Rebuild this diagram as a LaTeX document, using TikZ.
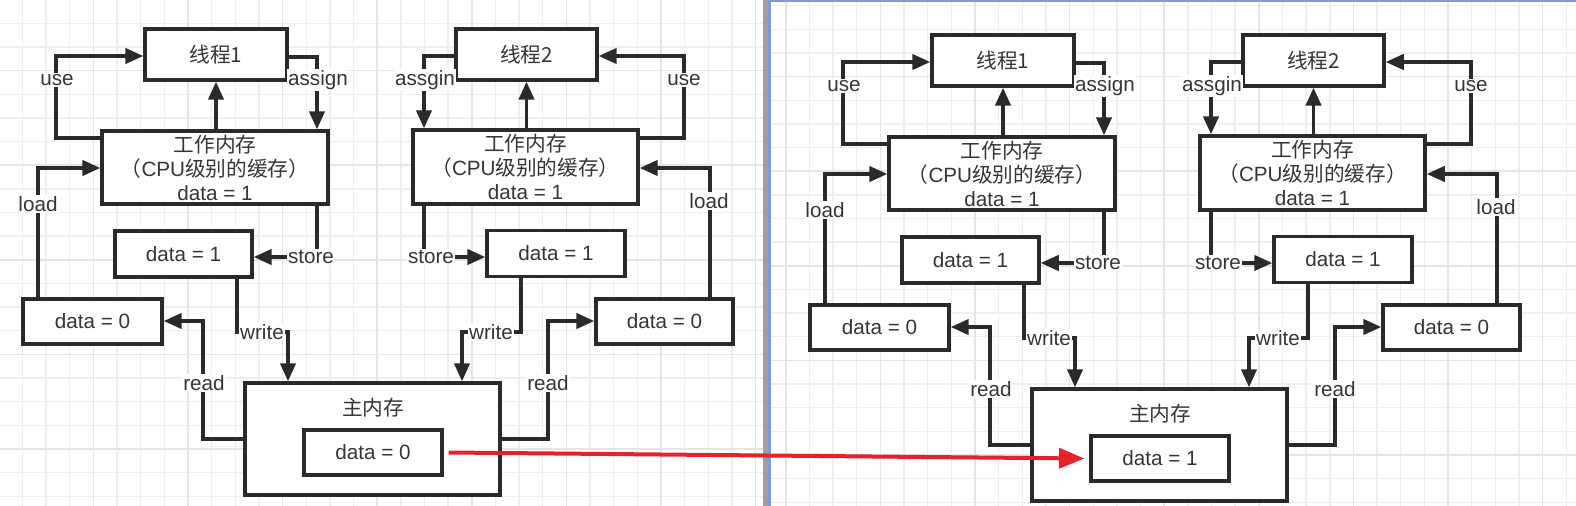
\documentclass[tikz,border=0pt]{standalone}
\usepackage{fontspec}
\setmainfont{Liberation Sans}
\newfontfamily\cjk{Noto Sans CJK SC}
\usetikzlibrary{arrows.meta,calc}
\definecolor{ink}{HTML}{2A2A2A}
\definecolor{txt}{HTML}{363636}
\definecolor{gridc}{HTML}{EFEFEF}
\definecolor{gridm}{HTML}{E5E5E5}
\definecolor{sepgrey}{HTML}{A59C9F}
\definecolor{sepblue}{HTML}{7E9CD6}
\definecolor{redarr}{HTML}{E8202A}
\tikzset{
  box/.style 2 args={draw=ink, line width=2.6pt, fill=white, inner sep=0pt,
    minimum width={#1*0.75pt}, minimum height={#2*0.75pt},
    font=\fontsize{15.5}{18}\selectfont, text=txt, align=center},
  lbl/.style={fill=white, inner sep=1pt, font=\fontsize{15.5}{18}\selectfont, text=txt},
  plain/.style={inner sep=0pt, font=\fontsize{15.5}{18}\selectfont, text=txt},
  arr/.style={draw=ink, line width=2.5pt, -{Triangle[length=13.5pt,width=11.5pt]}},
  gminor/.style={draw=gridc, line width=1.1pt},
  gmajor/.style={draw=gridm, line width=1.1pt},
  redline/.style={draw=redarr, line width=3pt, -{Triangle[length=19pt,width=15pt]}}
}
\newcommand\gridlines{%
  \foreach \k in {-28,...,5} \draw[gminor] ({661+23.65*\k},-10) -- ({661+23.65*\k},520);
  \foreach \k in {-19,...,2} \draw[gminor] (-20,{449+23.65*\k}) -- (800,{449+23.65*\k});
  \foreach \k in {-7,...,1} \draw[gmajor] ({661+94.6*\k},-10) -- ({661+94.6*\k},520);
  \foreach \k in {-4,...,0} \draw[gmajor] (-20,{449+94.6*\k}) -- (800,{449+94.6*\k});
}
\newcommand\panelbody[2]{%
  % boxes
  \node[box={142}{51}] (#1T1) at (216,54.5) {\cjk 线程1};
  \node[box={141}{51}] (#1T2) at (526.5,54.5) {\cjk 线程2};
  \node[box={226}{73}] (#1W1) at (215,167.5) {{\cjk 工作内存}\\{\cjk （}CPU{\cjk 级别的缓存）}\\data = 1};
  \node[box={225}{74}] (#1W2) at (525.5,167) {{\cjk 工作内存}\\{\cjk （}CPU{\cjk 级别的缓存）}\\data = 1};
  \node[box={137}{46}] (#1D1) at (183.5,254) {data = 1};
  \node[box={138}{46}] (#1D2) at (556,253.5) {data = 1};
  \node[box={139}{45}] (#1Z1) at (92.5,321.5) {data = 0};
  \node[box={137}{45}] (#1Z2) at (664.5,321.5) {data = 0};
  \node[box={255}{112}] (#1M) at (372.5,439) {};
  \node[plain] (#1MT) at (373,408) {\cjk 主内存};
  \node[box={138}{45}] (#1MI) at (373,452.5) {data = #2};
  % thread 1 side
  \draw[arr] (#1W1.west |- 0,138) -| (56,56) -- (#1T1.west |- 0,56);
  \node[lbl] (#1Lu1) at (57,80) {use};
  \draw[arr] (#1T1.east |- 0,57) -| (317,0 |- #1W1.north);
  \node[lbl] (#1La1) at (318,80) {assign};
  \draw[arr] (#1T1.south |- #1W1.north) -- (#1T1.south);
  \draw[arr] (38,0 |- #1Z1.north) |- (#1W1.west |- 0,168);
  \node[lbl] (#1Ll1) at (38,204) {load};
  \draw[arr] (317,0 |- #1W1.south) |- (#1D1.east |- 0,257);
  \node[lbl] (#1Ls1) at (311,257) {store};
  \draw[arr] (237,0 |- #1D1.south) -- (237,332) -- (288,332) -- (288,0 |- #1M.north);
  \node[lbl] (#1Lw1) at (262,332) {write};
  \draw[arr] (#1M.west |- 0,439) -| (203,321) -- (#1Z1.east |- 0,321);
  \node[lbl] (#1Lr1) at (204,383) {read};
  % thread 2 side
  \draw[arr] (#1T2.west |- 0,56) -| (424,0 |- #1W2.north);
  \node[lbl] (#1La2) at (425,80) {assgin};
  \draw[arr] (#1W2.east |- 0,138) -| (684,56) -- (#1T2.east |- 0,56);
  \node[lbl] (#1Lu2) at (684,80) {use};
  \draw[arr] (#1T2.south |- #1W2.north) -- (#1T2.south);
  \draw[arr] (710,0 |- #1Z2.north) |- (#1W2.east |- 0,168);
  \node[lbl] (#1Ll2) at (709,201) {load};
  \draw[arr] (424,0 |- #1W2.south) |- (#1D2.west |- 0,257);
  \node[lbl] (#1Ls2) at (431,257) {store};
  \draw[arr] (521,0 |- #1D2.south) -- (521,332) -- (462,332) -- (462,0 |- #1M.north);
  \node[lbl] (#1Lw2) at (491,332) {write};
  \draw[arr] (#1M.east |- 0,439) -| (548,321) -- (#1Z2.west |- 0,321);
  \node[lbl] (#1Lr2) at (548,383) {read};
}
\begin{document}
\begin{tikzpicture}[x=0.75pt,y=-0.75pt]
  \useasboundingbox (0,0) rectangle (1576,506);
  \fill[white] (0,0) rectangle (1576,506);
  % left panel grid
  \begin{scope}
    \clip (0,0) rectangle (763,506);
    \gridlines
  \end{scope}
  % right panel grid
  \begin{scope}[shift={(787,6)}]
    \clip (-16,-4) rectangle (789,500);
    \gridlines
  \end{scope}
  % separator and frame
  \fill[sepgrey] (763,0) rectangle (768,506);
  \fill[sepblue] (768,0) rectangle (771,506);
  \fill[sepblue] (768,0) rectangle (1576,2);
  % panels
  \begin{scope}
    \panelbody{L}{0}
  \end{scope}
  \begin{scope}[shift={(787,6)}]
    \panelbody{R}{1}
  \end{scope}
  % red arrow
  \draw[redline] ([xshift=3.75pt]LMI.east) -- ([xshift=-3.75pt]RMI.west);
\end{tikzpicture}
\end{document}
